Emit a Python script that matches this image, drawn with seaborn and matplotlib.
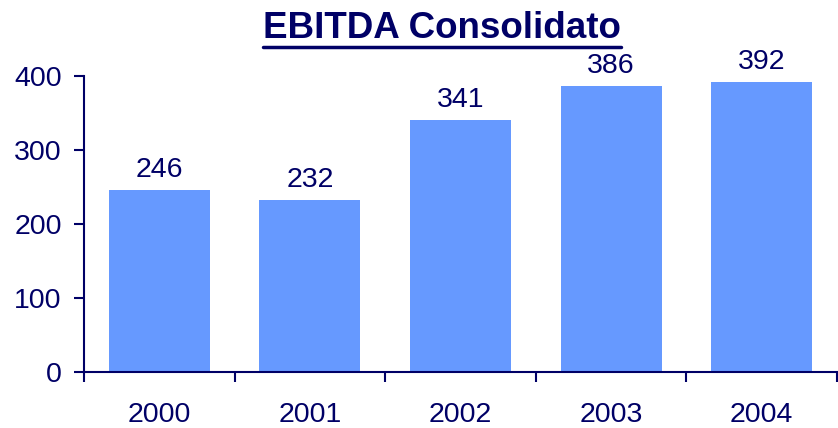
import matplotlib
matplotlib.use("Agg")
import matplotlib.pyplot as plt
import seaborn as sns
import pandas as pd
from matplotlib.lines import Line2D

years = ["2000", "2001", "2002", "2003", "2004"]
ebitda = [246, 232, 341, 386, 392]
yticks = [0, 100, 200, 300, 400]
title = "EBITDA Consolidato"

navy = "#000066"
bar_color = "#6699FF"

sns.set_theme(style="white")
plt.rcParams["font.family"] = ["Liberation Sans", "DejaVu Sans"]

df = pd.DataFrame({"year": years, "ebitda": ebitda})

fig = plt.figure(figsize=(8.38, 4.28), dpi=100)
ax = fig.add_axes([84 / 838, 56 / 428, 753 / 838, 296 / 428])

sns.barplot(data=df, x="year", y="ebitda", color=bar_color, saturation=1,
            width=0.67, ax=ax, edgecolor="none")

ax.set_xlim(-0.5, len(years) - 0.5)
ax.set_ylim(0, 400)
ax.set_yticks(yticks)
ax.set_yticklabels([str(v) for v in yticks], fontsize=20.5, color=navy)

# major ticks at category boundaries, labels at centers via minor ticks
ax.set_xticks([i - 0.5 for i in range(len(years) + 1)])
ax.set_xticklabels([])
ax.set_xticks(range(len(years)), minor=True)
ax.set_xticklabels(years, minor=True, fontsize=20.5, color=navy)
ax.tick_params(axis="x", which="major", direction="out", length=7, width=1.5, color=navy, bottom=True)
ax.tick_params(axis="x", which="minor", length=0, pad=21.5, bottom=True)
ax.tick_params(axis="y", direction="out", length=7, width=1.5, color=navy, left=True, pad=9)

ax.set_xlabel("")
ax.set_ylabel("")

for s in ["top", "right"]:
    ax.spines[s].set_visible(False)
for s in ["left", "bottom"]:
    ax.spines[s].set_color(navy)
    ax.spines[s].set_linewidth(1.5)

for i, v in enumerate(ebitda):
    ax.annotate(str(v), xy=(i, v), xytext=(0, 5), textcoords="offset points",
                ha="center", va="bottom", fontsize=20.5, color=navy)

t = fig.text(442 / 838, 1 - 28 / 428, title, ha="center", va="center",
             fontsize=26.5, fontweight="bold", color=navy)

fig.canvas.draw()
bb = t.get_window_extent().transformed(fig.transFigure.inverted())
yline = 1 - 47 / 428
fig.add_artist(Line2D([bb.x0, bb.x1], [yline, yline], transform=fig.transFigure,
                      color=navy, linewidth=2.5))

fig.savefig("out.png", dpi=100)
